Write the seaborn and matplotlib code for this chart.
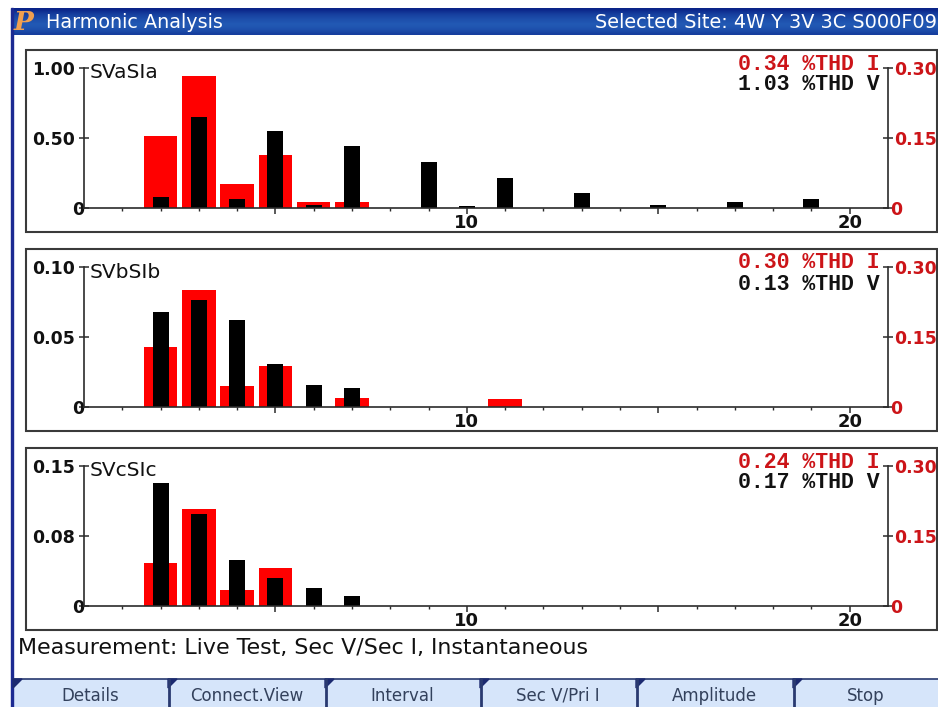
import numpy as np
import matplotlib
matplotlib.use('Agg')
import matplotlib.pyplot as plt
from matplotlib.patches import Rectangle, Polygon
from matplotlib.transforms import ScaledTranslation
import seaborn as sns

sns.set_style('white')

# Harmonicas 1 a 20
harmonics = list(range(1, 21))

# Tensao (preto, escala da esquerda)
volt_a = [0, 0.076, 0.65, 0.064, 0.548, 0.024, 0.44, 0, 0.326, 0.014, 0.212, 0, 0.107, 0, 0.024, 0, 0.045, 0, 0.064, 0]
volt_b = [0, 0.068, 0.0764, 0.062, 0.0305, 0.016, 0.0138, 0, 0, 0, 0, 0, 0, 0, 0, 0, 0, 0, 0, 0]
volt_c = [0, 0.132, 0.0986, 0.049, 0.03, 0.019, 0.011, 0, 0, 0, 0, 0, 0, 0, 0, 0, 0, 0, 0, 0]

# Corrente (vermelho, escala da direita)
curr_a = [0, 0.155, 0.283, 0.051, 0.114, 0.0136, 0.0136, 0, 0, 0, 0, 0, 0, 0, 0, 0, 0, 0, 0, 0]
curr_b = [0, 0.129, 0.251, 0.045, 0.0886, 0, 0.019, 0, 0, 0, 0.017, 0, 0, 0, 0, 0, 0, 0, 0, 0]
curr_c = [0, 0.0914, 0.207, 0.035, 0.082, 0, 0, 0, 0, 0, 0, 0, 0, 0, 0, 0, 0, 0, 0, 0]

panel_names = ['SVaSIa', 'SVbSIb', 'SVcSIc']
left_max = [1.00, 0.10, 0.15]
left_labels = [['0', '0.50', '1.00'], ['0', '0.05', '0.10'], ['0', '0.08', '0.15']]
right_max = 0.30
right_labels = ['0', '0.15', '0.30']
x_major = [5, 10, 15, 20]
x_major_labels = ['', '10', '', '20']
thd_i = ['0.34 %THD I', '0.30 %THD I', '0.24 %THD I']
thd_v = ['1.03 %THD V', '0.13 %THD V', '0.17 %THD V']
button_labels = ['Details', 'Connect.View', 'Interval', 'Sec V/Pri I', 'Amplitude', 'Stop']

W, H = 938, 707
DARK = '#2b2b2b'
RED = '#ff0000'
LABEL_RED = '#cc1418'

fig = plt.figure(figsize=(W / 100, H / 100), dpi=100, facecolor='white')

# camada de fundo em pixels: janela, titulo, botoes
bg = fig.add_axes([0, 0, 1, 1], zorder=0)
bg.axis('off')

grad = np.array([0.0, 0.25, 0.5, 0.65, 0.8, 0.9, 1.0, 0.95, 0.85, 0.7, 0.5]).reshape(-1, 1)
cmap = matplotlib.colors.LinearSegmentedColormap.from_list('bar', ['#0a2488', '#2259b4'])
bg.imshow(grad, cmap=cmap, extent=(12, W, 35, 8), aspect='auto', zorder=1, interpolation='bilinear')
bg.set_xlim(0, W)
bg.set_ylim(H, 0)
bg.add_patch(Rectangle((11, 8), 2, H - 8, color='#1c2a92', zorder=2))
bg.text(24, 23, 'P', color='#f0a050', fontsize=19, fontweight='bold', style='italic',
        family='DejaVu Serif', ha='center', va='center', zorder=3)
bg.text(46, 23, 'Harmonic Analysis', color='white', fontsize=13.8, ha='left', va='center', zorder=3)
bg.text(595, 23, 'Selected Site: 4W Y 3V 3C S000F09', color='white', fontsize=13.9,
        ha='left', va='center', zorder=3, clip_on=True)
bg.text(18, 648, 'Measurement: Live Test, Sec V/Sec I, Instantaneous', color='#111111',
        fontsize=15.95, ha='left', va='center', zorder=3)

# botoes
edges = [13, 168, 325, 480, 636, 793, W]
bg.add_patch(Rectangle((13, 679), W - 13, 28, facecolor='#d6e5fa', edgecolor='none', zorder=1))
bg.plot([13, W], [679, 679], color='#26386e', lw=1.2, zorder=2)
for i, label in enumerate(button_labels):
    x0, x1 = edges[i], edges[i + 1]
    bg.add_patch(Polygon([[x0, 679], [x0 + 9, 679], [x0, 688]], color='#1c2a70', zorder=3))
    if i > 0:
        bg.plot([x0 + 1, x0 + 1], [679, H], color='#2a3a70', lw=2, zorder=3)
    bg.text((x0 + x1) / 2, 696, label, color='#33415c', fontsize=12, ha='center', va='center', zorder=3)

volts = [volt_a, volt_b, volt_c]
currs = [curr_a, curr_b, curr_c]
tops = [68, 267, 466]
box_tops = [50, 249, 448]

for i in range(3):
    # moldura do painel
    bg.add_patch(Rectangle((26, box_tops[i]), 911, 182, facecolor='white', edgecolor='#3a3a3a', lw=1.5, zorder=1))

    top = tops[i]
    pos = [84 / W, 1 - (top + 140) / H, 804 / W, 140 / H]
    axRed = fig.add_axes(pos, zorder=1)
    axRed.patch.set_visible(False)
    ax = axRed.twinx()
    ax.set_zorder(2)
    ax.patch.set_visible(False)

    sns.barplot(x=harmonics, y=currs[i], ax=axRed, color=RED, saturation=1, width=0.87,
                native_scale=True, linewidth=0)
    sns.barplot(x=harmonics, y=volts[i], ax=ax, color='black', saturation=1, width=0.42,
                native_scale=True, linewidth=0)

    axRed.set_xlim(0, 21)
    axRed.set_ylim(0, right_max)
    ax.set_ylim(0, left_max[i])

    # escala preta a esquerda, vermelha a direita
    ax.yaxis.tick_left()
    axRed.yaxis.tick_right()
    ax.set_yticks([0, left_max[i] / 2, left_max[i]], left_labels[i], fontsize=12.5, fontweight='bold', color='#111111')
    axRed.set_yticks([0, right_max / 2, right_max], right_labels, fontsize=12.5, fontweight='bold', color=LABEL_RED)
    ax.tick_params(axis='y', left=True, right=False, length=7, width=1.1, color=DARK, pad=3, direction='inout')
    axRed.tick_params(axis='y', left=False, right=True, length=7, width=1.1, color=DARK, pad=1, direction='inout')
    ax.set_ylabel('')
    axRed.set_ylabel('')

    # o "0" fica colado ao eixo nos dois lados
    zero_l = ax.get_yticklabels()[0]
    zero_l.set_transform(zero_l.get_transform() + ScaledTranslation(7 / 72, 0, fig.dpi_scale_trans))
    zero_r = axRed.get_yticklabels()[0]
    zero_r.set_transform(zero_r.get_transform() + ScaledTranslation(-3 / 72, 0, fig.dpi_scale_trans))

    axRed.set_xticks(x_major, x_major_labels, fontsize=13, fontweight='bold', color='#111111')
    axRed.set_xticks(harmonics, minor=True)
    axRed.tick_params(axis='x', which='major', bottom=True, length=4, width=1.1, color=DARK, pad=0)
    axRed.tick_params(axis='x', which='minor', bottom=True, length=2, width=1, color=DARK)
    ax.set_xlabel('')
    axRed.set_xlabel('')

    for a in (ax, axRed):
        a.spines['top'].set_visible(False)
        a.spines['left'].set_visible(a is ax)
        a.spines['right'].set_visible(a is ax)
        a.spines['bottom'].set_visible(a is ax)
        for side in ('left', 'right', 'bottom'):
            a.spines[side].set_color(DARK)
            a.spines[side].set_linewidth(1.2)

    # textos do painel
    bg.text(90, top + 5, panel_names[i], color='#111111', fontsize=14.5, ha='left', va='center', zorder=3)
    bg.text(880, top - 4, thd_i[i], color=LABEL_RED, fontsize=15.5, fontweight='bold', family='Liberation Mono',
            ha='right', va='center', zorder=3)
    bg.text(880, top + 17, thd_v[i], color='#111111', fontsize=15.5, fontweight='bold', family='Liberation Mono',
            ha='right', va='center', zorder=3)

plt.savefig('out.png', dpi=100)
